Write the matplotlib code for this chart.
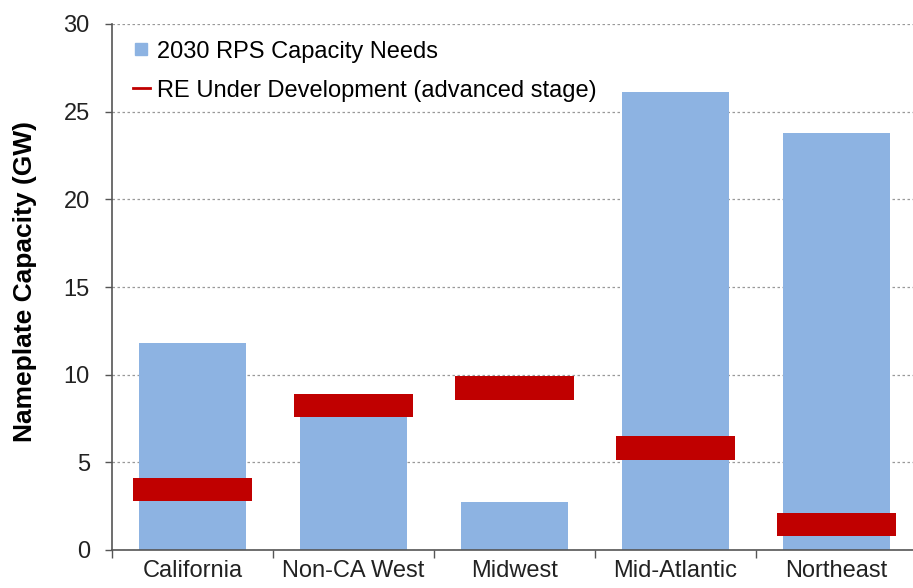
import matplotlib
matplotlib.use("Agg")
import matplotlib.pyplot as plt
from matplotlib.lines import Line2D
import numpy as np

plt.rcParams['font.family'] = ['Liberation Sans', 'DejaVu Sans']

categories = ["California", "Non-CA West", "Midwest", "Mid-Atlantic", "Northeast"]
rps_needs = [11.8, 7.8, 2.75, 26.1, 23.8]
re_under_dev = [3.45, 8.25, 9.25, 5.8, 1.45]
yticks = [0, 5, 10, 15, 20, 25, 30]

blue = "#8DB3E2"
red = "#C00000"

fig = plt.figure(figsize=(9.13, 5.88), dpi=100)
ax = fig.add_axes([112/913, 1-550/588, 805/913, (550-24)/588])

x = np.arange(len(categories))
ax.bar(x, rps_needs, width=0.67, color=blue, zorder=2)
thick = 1.35
ax.bar(x, [thick]*len(x), bottom=[v - thick/2 for v in re_under_dev], width=0.745,
       color=red, zorder=3)

ax.set_xlim(-0.5, 4.5)
ax.set_ylim(0, 30)
ax.set_yticks(yticks)
ax.set_yticklabels([str(t) for t in yticks], fontsize=17, color="#222222")
ax.grid(axis='y', linestyle=(0, (2, 2)), color="#999999", linewidth=0.9, zorder=0)
ax.set_axisbelow(True)

ax.set_xticks(np.arange(-0.5, 5, 1.0))
ax.set_xticklabels([])
ax.set_xticks(x, minor=True)
ax.set_xticklabels(categories, minor=True, fontsize=17, color="#222222")
ax.tick_params(axis='x', which='major', length=6, width=1, color="#555555", direction='out')
ax.tick_params(axis='x', which='minor', length=0, pad=7)
ax.tick_params(axis='y', length=5, width=1, color="#555555", pad=11)

for s in ['top', 'right']:
    ax.spines[s].set_visible(False)
for s in ['left', 'bottom']:
    ax.spines[s].set_color("#555555")
    ax.spines[s].set_linewidth(1.2)

ax.set_ylabel("Nameplate Capacity (GW)", fontsize=19, fontweight='bold')
ax.yaxis.set_label_coords(-0.093, 0.51)

handles = [Line2D([], [], marker='s', color=blue, linestyle='None', markersize=8),
           Line2D([], [], color=red, linewidth=2)]
ax.legend(handles, ["2030 RPS Capacity Needs", "RE Under Development (advanced stage)"],
          loc='upper left', bbox_to_anchor=(0.005, 1.0), frameon=False, fontsize=17,
          handlelength=0.75, handletextpad=0.3, labelspacing=0.72, borderaxespad=0.3)

fig.savefig("out.png", dpi=100)
